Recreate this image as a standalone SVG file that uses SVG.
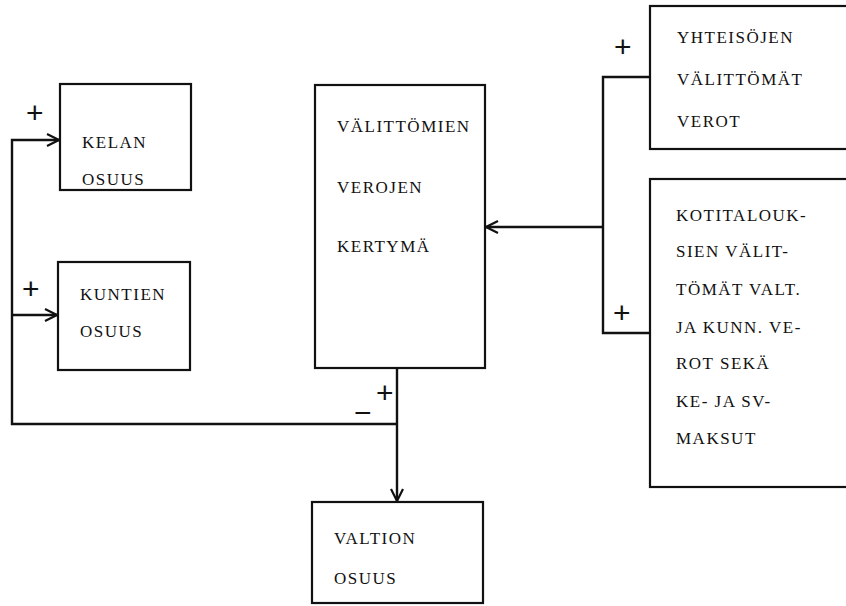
<svg xmlns="http://www.w3.org/2000/svg" width="846" height="606" viewBox="0 0 846 606">
<style>
.box{fill:none;stroke:#111;stroke-width:2.2}
.t{font-family:"Liberation Serif","DejaVu Serif",serif;font-size:17px;letter-spacing:1.5px;fill:#111}
.s{font-family:"Liberation Sans","DejaVu Sans",sans-serif;font-size:30px;fill:#111}
.c{fill:none;stroke:#111;stroke-width:2.4}
</style>
<defs>
<marker id="ah" markerWidth="14" markerHeight="14" refX="13" refY="7" orient="auto" markerUnits="userSpaceOnUse">
<path d="M1,1 L13,7 L1,13" fill="none" stroke="#111" stroke-width="2.2"/>
</marker>
</defs>
<rect width="846" height="606" fill="#fff"/>
<g id="connectors">
<path class="c" d="M396,424 H12 V140 H59" marker-end="url(#ah)"/>
<path class="c" d="M12,315 H57" marker-end="url(#ah)"/>
<path class="c" d="M397,368 V501" marker-end="url(#ah)"/>
<path class="c" d="M650,77 H603 V333 H650"/>
<path class="c" d="M603,227 H486" marker-end="url(#ah)"/>
<text class="s" x="26" y="123">+</text>
<text class="s" x="22" y="299">+</text>
<text class="s" x="376" y="403">+</text>
<text class="s" x="354" y="423">−</text>
<text class="s" x="614" y="57">+</text>
<text class="s" x="613" y="323">+</text>
</g>
<g id="kelan">
<rect class="box" x="60" y="84" width="131" height="106"/>
<text class="t" x="82" y="148">KELAN</text>
<text class="t" x="82" y="185">OSUUS</text>
</g>
<g id="kuntien">
<rect class="box" x="58" y="262" width="132" height="108"/>
<text class="t" x="80" y="300">KUNTIEN</text>
<text class="t" x="80" y="337">OSUUS</text>
</g>
<g id="kertyma">
<rect class="box" x="315" y="85" width="170" height="283"/>
<text class="t" x="337" y="132">VÄLITTÖMIEN</text>
<text class="t" x="337" y="193">VEROJEN</text>
<text class="t" x="337" y="252">KERTYMÄ</text>
</g>
<g id="valtion">
<rect class="box" x="312" y="502" width="171" height="101"/>
<text class="t" x="334" y="544">VALTION</text>
<text class="t" x="334" y="584">OSUUS</text>
</g>
<g id="yhteisojen">
<rect class="box" x="650" y="6" width="220" height="143"/>
<text class="t" x="677" y="43">YHTEISÖJEN</text>
<text class="t" x="677" y="85">VÄLITTÖMÄT</text>
<text class="t" x="677" y="127">VEROT</text>
</g>
<g id="kotitaloudet">
<rect class="box" x="650" y="179" width="220" height="308"/>
<text class="t" x="676" y="221">KOTITALOUK-</text>
<text class="t" x="676" y="257">SIEN VÄLIT-</text>
<text class="t" x="676" y="295">TÖMÄT VALT.</text>
<text class="t" x="676" y="333">JA KUNN. VE-</text>
<text class="t" x="676" y="369">ROT SEKÄ</text>
<text class="t" x="676" y="407">KE- JA SV-</text>
<text class="t" x="676" y="444">MAKSUT</text>
</g>
</svg>
